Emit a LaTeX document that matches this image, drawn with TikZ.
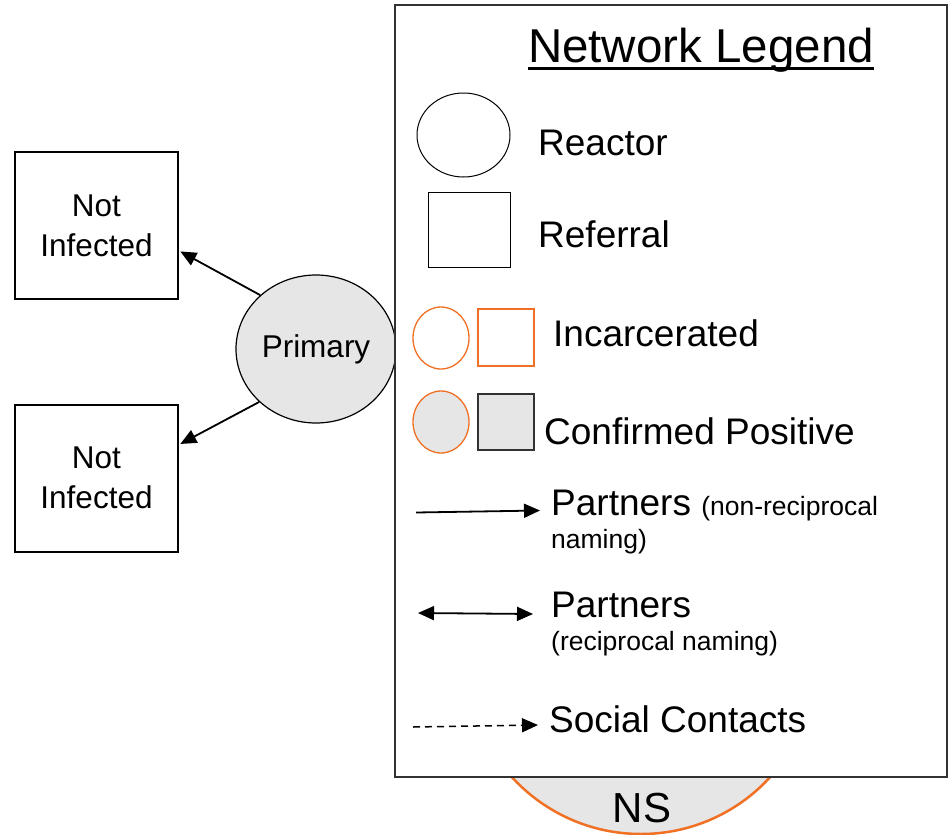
\documentclass[tikz,border=0pt]{standalone}
\usepackage{fontspec}
\setmainfont{Liberation Sans}
\usetikzlibrary{shapes.geometric,arrows.meta,positioning}
\definecolor{orng}{RGB}{240,112,36}
\definecolor{lgrey}{RGB}{230,230,230}
\definecolor{dgrey}{RGB}{50,50,50}

\begin{document}
\begin{tikzpicture}[x=1pt,y=-1pt]
    \tikzset{%
      person/.style={ellipse, draw, inner sep=0pt},
      refbox/.style={rectangle, draw, inner sep=0pt},
      lbl/.style={anchor=base west, inner sep=0pt,
        font=\fontsize{37}{44}\selectfont},
      sml/.style={anchor=base west, inner sep=0pt,
        font=\fontsize{26.5}{33}\selectfont},
      tip/.style={arrows={-Triangle[length=16pt,width=14pt]}},
      tips/.style={arrows={Triangle[length=16pt,width=14pt]-Triangle[length=16pt,width=14pt]}},
      mid/.style={font=\fontsize{31.5}{40}\selectfont},
    }
    \useasboundingbox (0,0) rectangle (948,835);
    % behind the legend
    \node[person, draw=orng, fill=lgrey, line width=2.5pt,
      minimum width=350pt, minimum height=350pt] (S) at (641,659) {};
    \node[anchor=base, inner sep=0pt,
      font=\fontsize{42}{50}\selectfont] (NS) at (642,822) {NS};

    \node[person, mid, fill=lgrey, line width=1.2pt, minimum width=160pt,
      minimum height=148pt] (P) at (316,349) {Primary};
    \node[refbox, mid, line width=2pt, minimum width=163pt,
      minimum height=147pt, align=center] (N1) at (96.5,225.5) {Not\\Infected};
    \node[refbox, mid, line width=2pt, minimum width=163pt,
      minimum height=147pt, align=center] (N2) at (96.5,478) {Not\\Infected};
    \draw [tip, line width=1.8pt, shorten >=1.5pt] (P.136) -- (N1.-17);
    \draw [tip, line width=1.8pt, shorten >=1.5pt] (P.-137) -- (N2.22);

    % legend
    \node[draw=dgrey, fill=white, line width=1.2pt, inner sep=0pt,
      minimum width=552pt, minimum height=772pt] (L) at (671,391) {};
    \node[anchor=base, inner sep=0pt,
      font=\fontsize{47.5}{56}\selectfont] (T) at (701,62) {Network Legend};
    \draw [line width=2.2pt] ([yshift=-6.5pt]T.base west) -- ([yshift=-6.5pt]T.base east);

    \node[person, line width=1pt, minimum width=93pt,
      minimum height=84pt] (R) at (463.5,135) {};
    \node[lbl] (RT) at (538,155) {Reactor};

    \node[refbox, line width=1pt, minimum width=82pt,
      minimum height=75pt] (F) at (469,229.5) {};
    \node[lbl] (FT) at (538,247) {Referral};

    \node[person, draw=orng, line width=1.3pt, minimum width=56pt,
      minimum height=62pt] (IC) at (441,338) {};
    \node[refbox, draw=orng, line width=1.3pt, minimum width=56pt,
      minimum height=57pt] (IS) at (506,337.5) {};
    \node[lbl] (IT) at (553,346) {Incarcerated};

    \node[person, draw=orng, fill=lgrey, line width=1.3pt, minimum width=56pt,
      minimum height=62pt] (CC) at (441,422) {};
    \node[refbox, draw=dgrey, fill=lgrey, line width=1.3pt, minimum width=56pt,
      minimum height=56pt] (CS) at (506,422) {};
    \node[lbl] (CT) at (544,444) {Confirmed Positive};

    \coordinate (A1) at (416,512.5);
    \coordinate (B1) at (540,510.5);
    \draw [tip, line width=1.8pt] (A1) -- (B1);
    \node[lbl] (PT1) at (551,515) {Partners {\fontsize{26.5}{33}\selectfont(non-reciprocal}};
    \node[sml] (PT1b) at (551,548) {naming)};

    \coordinate (A2) at (418,613);
    \coordinate (B2) at (533,614);
    \draw [tips, line width=1.8pt] (A2) -- (B2);
    \node[lbl] (PT2) at (551,617) {Partners};
    \node[sml] (PT2b) at (551,650) {(reciprocal naming)};

    \coordinate (A3) at (413,727);
    \coordinate (B3) at (538,725);
    \draw [tip, line width=1.5pt, dash pattern=on 7pt off 5pt] (A3) -- (B3);
    \node[lbl] (ST) at (549,732) {Social Contacts};
\end{tikzpicture}
\end{document}
